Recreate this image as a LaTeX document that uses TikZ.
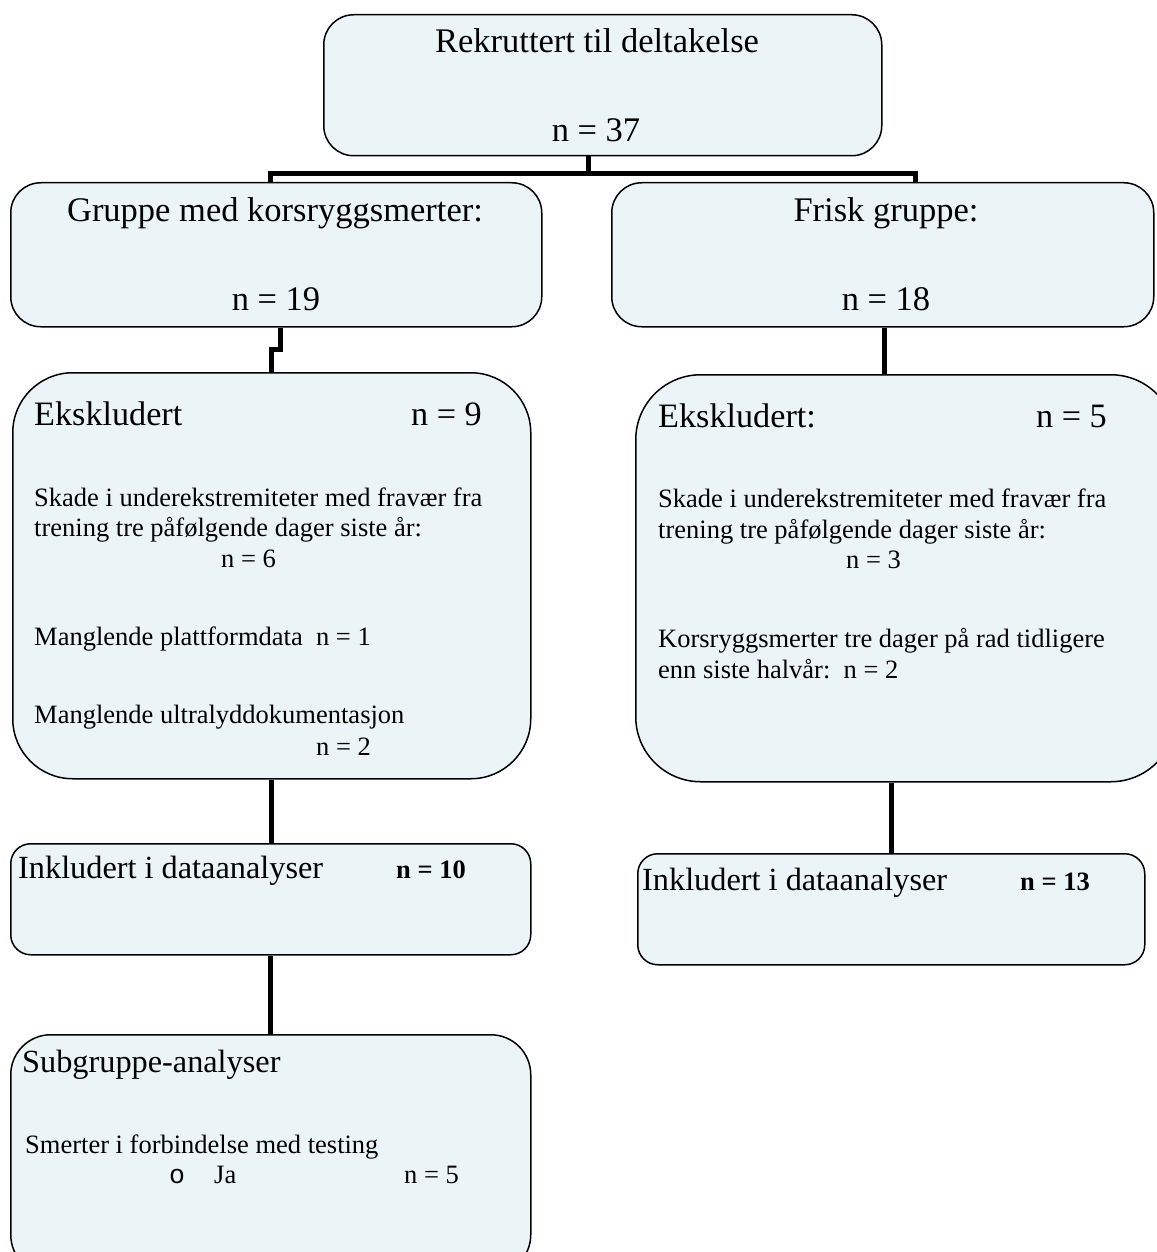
\documentclass[tikz,border=0pt]{standalone}
\usepackage{fontspec}
\setmainfont{Liberation Serif}
\newfontfamily\bulletfont{Liberation Mono}
\definecolor{boxfill}{RGB}{235,245,247}
\begin{document}
\begin{tikzpicture}[x=1pt,y=-1pt,
  box/.style={draw=black, line width=1.5pt, fill=boxfill, anchor=north west, inner sep=0pt},
  conn/.style={draw=black, line width=5pt},
  head/.style={anchor=base, inner sep=0pt, font=\fontsize{34.5}{40}\selectfont},
  big/.style={anchor=base west, inner sep=0pt, font=\fontsize{34.2}{40}\selectfont},
  mid/.style={anchor=base west, inner sep=0pt, font=\fontsize{32.3}{38}\selectfont},
  small/.style={anchor=base west, inner sep=0pt, font=\fontsize{26.5}{31}\selectfont},
  smallb/.style={anchor=base west, inner sep=0pt, font=\fontsize{26.5}{31}\selectfont\bfseries}]
\useasboundingbox (0,0) rectangle (1156,1252);
\fill[white] (0,0) rectangle (1156,1252);
% boxes
\node[box, rounded corners=30pt, minimum width=558pt, minimum height=141pt] (top) at (323,14) {};
\node[box, rounded corners=30pt, minimum width=531pt, minimum height=144pt] (grp) at (10,182) {};
\node[box, rounded corners=30pt, minimum width=542pt, minimum height=144pt] (frisk) at (611,182) {};
\node[box, rounded corners=60pt, minimum width=518pt, minimum height=406pt] (exl) at (12,372) {};
\node[box, rounded corners=65pt, minimum width=540pt, minimum height=407pt] (exr) at (635,374) {};
\node[box, rounded corners=20pt, minimum width=520pt, minimum height=111pt] (inl) at (10,843) {};
\node[box, rounded corners=20pt, minimum width=507pt, minimum height=111pt] (inr) at (637,853) {};
\node[box, rounded corners=40pt, minimum width=520pt, minimum height=240pt] (sub) at (10,1034) {};
% connectors
\coordinate (xl) at (270,0);
\coordinate (xr) at (915,0);
\draw[conn] ([xshift=-14pt]top.south) -- ++(0,17) coordinate (jt);
\draw[conn] (grp.north -| xl) |- (jt) -| (frisk.north -| xr);
\draw[conn] ([xshift=4pt]grp.south) -- ++(0,22) -| (exl.north);
\draw[conn] ([xshift=2pt]frisk.south) -- ([xshift=2pt]frisk.south |- exr.north);
\draw[conn] (exl.south) -- (exl.south |- inl.north);
\draw[conn] (inr.north |- exr.south) -- (inr.north);
\draw[conn] (inl.south) -- (inl.south |- sub.north);
% texts
\node[head] (t1) at (597,53) {Rekruttert til deltakelse};
\node[head] (t2) at (596,142) {n = 37};
\node[head] (g1) at (275,222) {Gruppe med korsryggsmerter:};
\node[head] (g2) at (276,310) {n = 19};
\node[head] (f1) at (886,222) {Frisk gruppe:};
\node[head] (f2) at (886,310) {n = 18};
% left excluded
\node[big] (el1) at (34,425) {Ekskludert};
\node[big] (el2) at (411,425) {n = 9};
\node[small] (el3) at (34,506) {Skade i underekstremiteter med fravær fra};
\node[small] (el4) at (34,536) {trening tre påfølgende dager siste år:};
\node[small] (el5) at (221,567) {n = 6};
\node[small] (el6) at (34,645) {Manglende plattformdata\ \ n = 1};
\node[small] (el7) at (34,723) {Manglende ultralyddokumentasjon};
\node[small] (el8) at (316,755) {n = 2};
% right excluded
\node[big] (er1) at (658,427) {Ekskludert:};
\node[big] (er2) at (1036,427) {n = 5};
\node[small] (er3) at (658,507) {Skade i underekstremiteter med fravær fra};
\node[small] (er4) at (658,538) {trening tre påfølgende dager siste år:};
\node[small] (er5) at (846,568) {n = 3};
\node[small] (er6) at (658,647) {Korsryggsmerter tre dager på rad tidligere};
\node[small] (er7) at (658,678) {enn siste halvår:\ \ n = 2};
% included
\node[mid] (il1) at (18,878) {Inkludert i dataanalyser};
\node[smallb] (il2) at (396,878) {n = 10};
\node[mid] (ir1) at (642,890) {Inkludert i dataanalyser};
\node[smallb] (ir2) at (1020,890) {n = 13};
% subgroup
\node[mid] (s1) at (22,1072) {Subgruppe-analyser};
\node[small] (s2) at (25,1153) {Smerter i forbindelse med testing};
\node[small] (s3) at (169,1183) {\bulletfont o};
\node[small] (s4) at (214,1183) {Ja};
\node[small] (s5) at (404,1183) {n = 5};
\end{tikzpicture}
\end{document}
